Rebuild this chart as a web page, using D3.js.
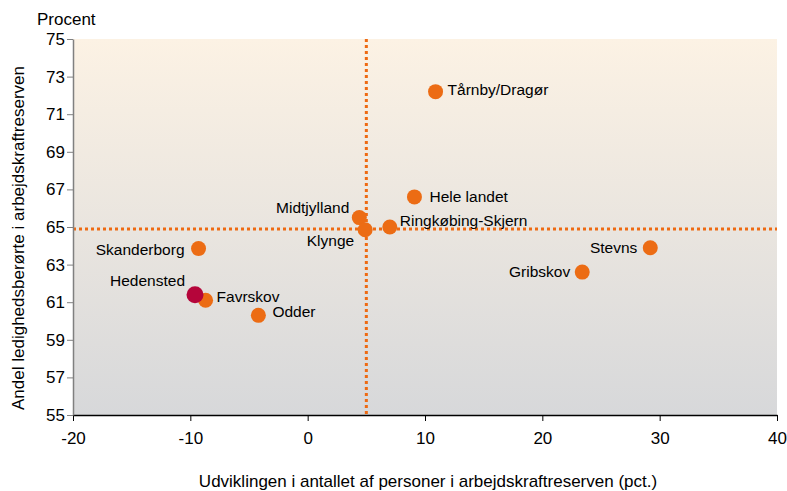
<!DOCTYPE html>
<html>
<head>
<meta charset="utf-8">
<script src="https://cdn.jsdelivr.net/npm/d3@7"></script>
<style>
  body { margin: 0; background: #fff; }
  text { font-family: Arial, "Liberation Sans", sans-serif; fill: #000; }
</style>
</head>
<body>
<svg width="787" height="491"></svg>
<script>
  // Data
  var names = ["Tårnby/Dragør", "Hele landet", "Ringkøbing-Skjern", "Midtjylland", "Klynge",
               "Stevns", "Gribskov", "Skanderborg", "Favrskov", "Odder", "Hedensted"];
  var xValues = [10.9, 9.1, 7.0, 4.4, 4.9, 29.2, 23.4, -9.3, -8.7, -4.2, -9.6];
  var yValues = [72.2, 66.6, 65.0, 65.5, 64.85, 63.9, 62.6, 63.85, 61.1, 60.3, 61.4];
  var highlight = "Hedensted";
  var xTicks = [-20, -10, 0, 10, 20, 30, 40];
  var yTicks = [55, 57, 59, 61, 63, 65, 67, 69, 71, 73, 75];
  var refX = 5.0;
  var refY = 64.9;

  // label placement: [anchor, dx, dy]
  var labelPos = {
    "Tårnby/Dragør": ["start", 12, 3],
    "Hele landet": ["start", 15, 5],
    "Ringkøbing-Skjern": ["start", 10, -1],
    "Midtjylland": ["end", -10, -5],
    "Klynge": ["end", -11, 16],
    "Stevns": ["end", -13, 5],
    "Gribskov": ["end", -12, 5],
    "Skanderborg": ["end", -14, 6],
    "Favrskov": ["start", 11, 2],
    "Odder": ["start", 14, 2],
    "Hedensted": ["end", -10, -9]
  };

  var margin = { top: 39, right: 10, bottom: 76, left: 73 };
  var width = 777 - margin.left;
  var height = 415 - margin.top;

  var svg = d3.select("svg");
  var g = svg.append("g")
    .attr("transform", "translate(" + margin.left + "," + margin.top + ")");

  var xScale = d3.scaleLinear().domain([-20, 40]).range([0, width]);
  var yScale = d3.scaleLinear().domain([55, 75]).range([height, 0]);

  // background gradient
  var grad = svg.append("defs").append("linearGradient")
    .attr("id", "bg").attr("x1", 0).attr("y1", 0).attr("x2", 0).attr("y2", 1);
  grad.append("stop").attr("offset", "0%").attr("stop-color", "#fcf2e4");
  grad.append("stop").attr("offset", "100%").attr("stop-color", "#d7d8da");

  g.append("rect")
    .attr("width", width)
    .attr("height", height)
    .attr("fill", "url(#bg)");

  // reference lines
  g.append("line")
    .attr("x1", xScale(refX)).attr("x2", xScale(refX))
    .attr("y1", 0).attr("y2", height)
    .attr("stroke", "#ee6a12").attr("stroke-width", 3)
    .attr("stroke-dasharray", "3,3");
  g.append("line")
    .attr("x1", 0).attr("x2", width)
    .attr("y1", yScale(refY)).attr("y2", yScale(refY))
    .attr("stroke", "#ee6a12").attr("stroke-width", 3)
    .attr("stroke-dasharray", "3,3");

  // axes
  var xAxis = d3.axisBottom(xScale).tickValues(xTicks).tickSize(6).tickSizeOuter(0)
    .tickFormat(d3.format("d"));
  var xg = g.append("g").attr("transform", "translate(0," + height + ")").call(xAxis);
  xg.select(".domain").attr("stroke", "#000").attr("stroke-width", 1.5);
  xg.selectAll(".tick line").attr("stroke", "#000");
  xg.selectAll("text").attr("dy", "1.2em").style("font-size", "17px")
    .style("font-family", "Arial, 'Liberation Sans', sans-serif")
    .text(function(d) { return d < 0 ? "-" + Math.abs(d) : d; });

  var yAxis = d3.axisLeft(yScale).tickValues(yTicks).tickSize(6).tickSizeOuter(0);
  var yg = g.append("g").call(yAxis);
  yg.select(".domain").attr("stroke", "#808080").attr("stroke-width", 1.5);
  yg.selectAll(".tick line").attr("stroke", "#808080");
  yg.selectAll("text").attr("x", -8).style("font-size", "17px")
    .style("font-family", "Arial, 'Liberation Sans', sans-serif");

  // points
  var data = names.map(function(n, i) {
    return { name: n, x: xValues[i], y: yValues[i] };
  });

  g.selectAll("circle.pt")
    .data(data)
    .enter()
    .append("circle")
    .attr("class", "pt")
    .attr("cx", function(d) { return xScale(d.x); })
    .attr("cy", function(d) { return yScale(d.y); })
    .attr("r", function(d) { return d.name === highlight ? 8.5 : 7.5; })
    .attr("fill", function(d) { return d.name === highlight ? "#b5053a" : "#ec6c14"; });

  g.selectAll("text.lbl")
    .data(data)
    .enter()
    .append("text")
    .attr("class", "lbl")
    .attr("x", function(d) { return xScale(d.x) + labelPos[d.name][1]; })
    .attr("y", function(d) { return yScale(d.y) + labelPos[d.name][2]; })
    .attr("text-anchor", function(d) { return labelPos[d.name][0]; })
    .style("font-size", "15.5px")
    .text(function(d) { return d.name; });

  // titles
  svg.append("text")
    .attr("x", 37).attr("y", 25)
    .style("font-size", "17px")
    .text("Procent");

  svg.append("text")
    .attr("transform", "translate(24,238) rotate(-90)")
    .attr("text-anchor", "middle")
    .style("font-size", "17px")
    .text("Andel ledighedsberørte i arbejdskraftreserven");

  svg.append("text")
    .attr("x", 428).attr("y", 487)
    .attr("text-anchor", "middle")
    .style("font-size", "17px")
    .text("Udviklingen i antallet af personer i arbejdskraftreserven (pct.)");
</script>
</body>
</html>
